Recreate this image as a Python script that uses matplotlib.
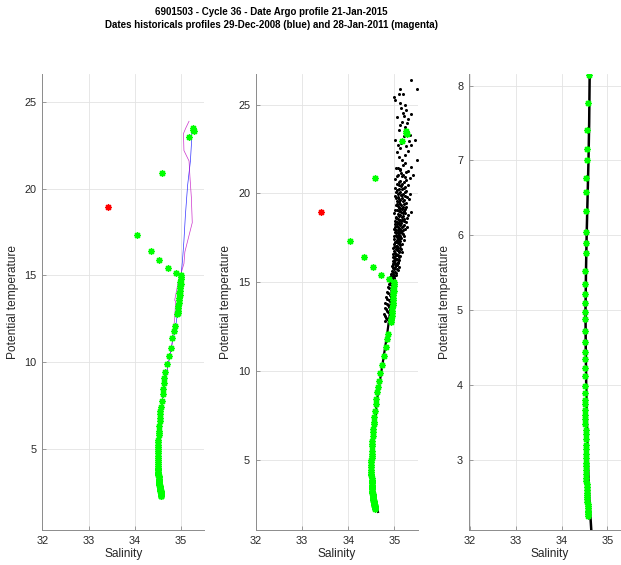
import matplotlib
matplotlib.use('Agg')
import matplotlib.pyplot as plt

plt.rcParams['font.family'] = ['Liberation Sans', 'DejaVu Sans']

#Argo profile (cycle 36): salinity / potential temperature
argo_s = [35.26, 35.25, 35.27, 35.16, 34.59, 34.05, 34.35, 34.53, 34.72, 34.89,
          35.00, 34.99, 35.00, 34.98, 34.99, 34.98, 34.97, 34.98, 34.96, 34.97,
          34.96, 34.95, 34.95, 34.94, 34.94, 34.93, 34.93, 34.92,
          34.87, 34.84, 34.81, 34.77, 34.74, 34.69, 34.66, 34.64, 34.62, 34.61,
          34.60, 34.58, 34.56, 34.55, 34.55, 34.54, 34.54, 34.53, 34.52, 34.52,
          34.52, 34.51, 34.51, 34.51, 34.51,
          34.50, 34.50, 34.50, 34.50, 34.50, 34.50, 34.50, 34.50, 34.51, 34.51,
          34.51, 34.51, 34.51, 34.51, 34.51, 34.51, 34.52, 34.52, 34.52, 34.52,
          34.52, 34.53, 34.53, 34.53, 34.53, 34.54, 34.54, 34.54, 34.54, 34.55,
          34.55, 34.55, 34.55, 34.56, 34.56, 34.56, 34.56, 34.57, 34.57, 34.57,
          34.57, 34.57, 34.57, 34.57]
argo_t = [23.50, 23.40, 23.35, 22.96, 20.88, 17.32, 16.42, 15.86, 15.41, 15.15,
          15.00, 14.88, 14.76, 14.62, 14.50, 14.38, 14.25, 14.12, 13.98, 13.85,
          13.70, 13.55, 13.40, 13.25, 13.10, 12.95, 12.85, 12.74,
          12.07, 11.78, 11.36, 10.82, 10.34, 9.87, 9.44, 9.10, 8.81, 8.43,
          8.14, 7.76, 7.40, 7.15, 7.01, 6.76, 6.58, 6.32, 6.04, 5.90,
          5.76, 5.52, 5.35, 5.22, 5.09,
          4.97, 4.88, 4.72, 4.57, 4.44, 4.34, 4.23, 4.12, 3.98, 3.89,
          3.80, 3.74, 3.67, 3.60, 3.54, 3.47, 3.40, 3.34, 3.27, 3.20,
          3.14, 3.08, 3.02, 2.96, 2.91, 2.86, 2.81, 2.76, 2.72, 2.68,
          2.64, 2.60, 2.56, 2.53, 2.50, 2.47, 2.44, 2.41, 2.38, 2.35,
          2.32, 2.30, 2.27, 2.25]

#flagged point
bad_s = [33.41]
bad_t = [18.97]

#historical profile 29-Dec-2008
hist1_s = [35.23, 35.22, 35.20, 35.14, 35.12, 35.09, 35.06, 35.03, 35.00, 34.97,
           34.93, 34.88, 34.80, 34.73, 34.66, 34.60, 34.55, 34.52, 34.50, 34.51,
           34.54, 34.60]
hist1_t = [23.37, 22.50, 21.60, 20.20, 19.50, 18.40, 17.00, 15.90, 15.00, 14.00,
           13.00, 12.00, 11.00, 10.00, 9.00, 8.00, 7.00, 6.00, 5.00, 4.00,
           3.00, 2.20]

#historical profile 28-Jan-2011
hist2_s = [35.17, 35.10, 35.05, 35.06, 35.17, 35.19, 35.22, 35.24, 35.08, 35.06,
           34.93, 34.86, 34.88, 34.86, 34.80, 34.73, 34.66, 34.60, 34.55, 34.52,
           34.50, 34.51, 34.55, 34.60]
hist2_t = [23.89, 23.50, 23.18, 22.20, 21.60, 20.67, 19.50, 18.04, 16.35, 15.67,
           14.52, 13.56, 13.50, 12.50, 11.00, 10.00, 9.00, 8.00, 7.00, 6.00,
           5.00, 4.00, 3.00, 2.30]

#reference data, deep part
deep_s = [34.645, 34.60, 34.57, 34.55, 34.535, 34.525, 34.52, 34.53, 34.545, 34.565,
          34.585, 34.60, 34.61, 34.63, 34.66, 34.72, 34.78, 34.84, 34.89, 34.93, 34.95]
deep_t = [2.07, 2.5, 3.0, 3.5, 4.0, 4.5, 5.0, 5.5, 6.0, 6.5,
          7.0, 7.5, 8.1, 8.5, 9.0, 10.0, 11.0, 12.0, 13.0, 14.0, 15.0]

#reference data, upper part (salinity, temperature)
cloud_pts = [
    (35.36, 26.37), (35.48, 25.90), (35.12, 25.88), (35.18, 25.58), (35.10, 25.60),
    (34.99, 25.43), (35.02, 25.28), (35.12, 25.06), (35.23, 24.96), (35.26, 24.68),
    (35.18, 24.53), (35.05, 24.31), (35.30, 24.21), (35.16, 24.03), (35.35, 24.49),
    (35.23, 23.75), (35.09, 23.56), (35.34, 23.28), (35.02, 23.00), (35.26, 22.64),
    (35.37, 22.73), (35.44, 23.00), (35.12, 22.54), (35.05, 22.35), (35.23, 22.16),
    (35.48, 21.88), (35.18, 21.60), (35.37, 21.51), (35.12, 21.32), (35.19, 21.04),
    (35.06, 20.95), (35.26, 20.76), (35.40, 21.04), (35.11, 20.48), (35.21, 20.29),
    (35.14, 24.80), (35.20, 24.35), (35.28, 23.95), (35.13, 23.85), (35.21, 23.20),
    (35.32, 22.95), (35.15, 22.85), (35.08, 22.70), (35.29, 22.40), (35.10, 22.05),
    (35.16, 21.85), (35.24, 21.70), (35.08, 21.45), (35.30, 21.25), (35.14, 21.15),
    (35.22, 20.90), (35.09, 20.65), (35.17, 20.55), (35.30, 20.45),
    (35.04, 21.40), (35.13, 21.35), (35.25, 21.20), (35.07, 21.05), (35.16, 20.98),
    (35.33, 20.88), (35.02, 20.80), (35.12, 20.72), (35.20, 20.62), (35.06, 20.52),
    (35.14, 20.40), (35.24, 20.35),
    (35.05, 20.20), (35.13, 20.10), (35.22, 20.05), (35.08, 19.95), (35.17, 19.88),
    (35.28, 19.80), (35.03, 19.72), (35.12, 19.65), (35.20, 19.60), (35.10, 19.50),
    (35.25, 19.45), (35.06, 19.38), (35.15, 19.32), (35.19, 19.22), (35.09, 19.15),
    (35.24, 19.10), (35.02, 19.05), (35.13, 18.98), (35.18, 18.90), (35.07, 18.85),
    (35.30, 18.80), (35.11, 18.72), (35.16, 18.66), (35.04, 18.60), (35.21, 18.55),
    (35.09, 18.48), (35.14, 18.42), (35.26, 18.38), (35.06, 18.30), (35.12, 18.25),
    (35.18, 18.18), (35.02, 18.12), (35.10, 18.05), (35.22, 18.00), (35.07, 17.95),
    (35.15, 17.88), (35.33, 19.95), (35.35, 18.95), (35.27, 18.10),
    (35.01, 20.30), (35.09, 20.25), (35.17, 20.22), (35.26, 20.15), (35.04, 20.08),
    (35.11, 20.02), (35.19, 19.98), (35.14, 19.92), (35.02, 19.85), (35.23, 19.84),
    (35.07, 19.78), (35.16, 19.75), (35.31, 19.70), (35.10, 19.68), (35.05, 19.58),
    (35.18, 19.55), (35.13, 19.42), (35.21, 19.40), (35.03, 19.33), (35.08, 19.28),
    (35.26, 19.25), (35.12, 19.20), (35.17, 19.12), (35.05, 19.08), (35.21, 19.02),
    (35.10, 19.00), (35.15, 18.94), (35.00, 18.92), (35.24, 18.88), (35.09, 18.80),
    (35.13, 18.76), (35.19, 18.70), (35.04, 18.68), (35.27, 18.62), (35.08, 18.58),
    (35.16, 18.52), (35.12, 18.50), (35.01, 18.45), (35.20, 18.44), (35.06, 18.40),
    (35.15, 18.35), (35.09, 18.33), (35.02, 18.28), (35.21, 18.22), (35.13, 18.20),
    (35.05, 18.15), (35.16, 18.10), (35.08, 18.08), (35.00, 18.02), (35.12, 17.98),
    (35.19, 17.96), (35.04, 17.92), (35.10, 17.90), (35.14, 17.85), (35.01, 17.80),
    (35.07, 17.78), (35.16, 17.74), (35.09, 17.68), (35.03, 17.65), (35.12, 17.60),
    (35.20, 17.58), (35.05, 17.52), (35.11, 17.45), (35.00, 17.44), (35.08, 17.38),
    (35.04, 17.82), (35.11, 17.75), (35.18, 17.70), (35.00, 17.62), (35.08, 17.55),
    (35.14, 17.48), (35.05, 17.40), (35.20, 17.35), (35.02, 17.28), (35.10, 17.20),
    (35.16, 17.12), (35.06, 17.05), (34.99, 16.98), (35.12, 16.92), (35.03, 16.85),
    (35.09, 16.78), (35.17, 16.70), (35.01, 16.62), (35.06, 16.55), (35.13, 16.48),
    (34.98, 16.40), (35.04, 16.33), (35.10, 16.26), (35.00, 16.18), (35.07, 16.10),
    (34.96, 16.02), (35.03, 15.95), (35.09, 15.88), (34.98, 15.80), (35.05, 15.72),
    (34.94, 15.64), (35.01, 15.56), (34.97, 15.48), (35.04, 15.40), (34.92, 15.32),
    (35.00, 15.24), (34.95, 15.16), (34.90, 15.08), (35.02, 15.00), (34.88, 14.92),
    (35.13, 17.32), (35.04, 17.25), (35.07, 17.18), (35.00, 17.15), (35.12, 17.08),
    (35.03, 17.02), (35.08, 16.95), (34.98, 16.90), (35.14, 16.88), (35.05, 16.80),
    (35.00, 16.74), (35.10, 16.68), (35.04, 16.60), (34.97, 16.58), (35.08, 16.52),
    (35.02, 16.45), (35.11, 16.42), (34.99, 16.36), (35.06, 16.30), (35.02, 16.22),
    (34.96, 16.20), (35.08, 16.15), (35.01, 16.08), (34.97, 16.05), (35.05, 15.98),
    (34.95, 15.92), (35.02, 15.85), (34.99, 15.76), (35.07, 15.68), (34.96, 15.60),
    (35.03, 15.52), (34.93, 15.44), (35.00, 15.36), (34.97, 15.28), (34.92, 15.20),
    (34.97, 14.84), (34.86, 14.70), (34.93, 14.60), (34.84, 14.45), (34.90, 14.30),
    (34.82, 14.15), (34.88, 14.00), (34.80, 13.85), (34.86, 13.70), (34.79, 13.55),
    (34.84, 13.40), (34.78, 13.20), (34.82, 13.00), (34.80, 12.80),
    (34.99, 14.95), (34.91, 14.88), (34.95, 14.75), (34.88, 14.65), (34.96, 14.52),
    (34.86, 14.40), (34.92, 14.22), (34.84, 14.08), (34.90, 13.92), (34.83, 13.78),
    (34.88, 13.62), (34.81, 13.48), (34.86, 13.30), (34.79, 13.10), (34.84, 12.90),
]
cloud_s = [p[0] for p in cloud_pts]
cloud_t = [p[1] for p in cloud_pts]

star = (8, 2, 0)
green = (0, 1, 0)
grid_col = '#e3e3e3'
text_col = '#262626'

def style_axis(ax, xlim, ylim, yticks):
    ax.set_xlim(xlim)
    ax.set_ylim(ylim)
    ax.set_xticks([32, 33, 34, 35])
    ax.set_yticks(yticks)
    ax.grid(True, color=grid_col, linewidth=0.6)
    ax.set_axisbelow(True)
    for side in ['top', 'right']:
        ax.spines[side].set_visible(False)
    for side in ['left', 'bottom']:
        ax.spines[side].set_color('#8c8c8c')
        ax.spines[side].set_linewidth(0.7)
    ax.tick_params(direction='in', length=3, width=0.6, color='#8c8c8c',
                   labelsize=7.8, labelcolor=text_col, pad=4)
    ax.set_xlabel('Salinity', fontsize=8.6, color=text_col, labelpad=2)
    ax.set_ylabel('Potential temperature', fontsize=8.6, color=text_col, labelpad=4)

fig = plt.figure(figsize=(6.21, 5.65), dpi=100)

#panel 1: Argo profile against the two historical profiles
ax1 = fig.add_axes([42.3/621, 35/565, 162/621, 455.7/565])
ax1.plot(hist1_s, hist1_t, color='b', linewidth=0.5, alpha=0.8)
ax1.plot(hist2_s, hist2_t, color='m', linewidth=0.5, alpha=0.8)
ax1.plot(argo_s, argo_t, linestyle='none', marker=star, color=green, markersize=4.8, mew=1.0)
ax1.plot(bad_s, bad_t, linestyle='none', marker=star, color='r', markersize=4.8, mew=1.0)
style_axis(ax1, (32, 35.5), (0.3, 26.6), [5, 10, 15, 20, 25])

#panel 2: Argo profile against the reference data
ax2 = fig.add_axes([255.7/621, 35/565, 161.8/621, 455.7/565])
ax2.plot(deep_s, deep_t, color='k', linewidth=1.6)
ax2.plot(cloud_s, cloud_t, linestyle='none', marker='o', color='k', markersize=2.2, mew=0)
ax2.plot(argo_s, argo_t, linestyle='none', marker=star, color=green, markersize=4.8, mew=1.0)
ax2.plot(bad_s, bad_t, linestyle='none', marker=star, color='r', markersize=4.8, mew=1.0)
style_axis(ax2, (32.04, 35.5), (1.05, 26.7), [5, 10, 15, 20, 25])

#panel 3: deep part only
ax3 = fig.add_axes([468.7/621, 35/565, 161.7/621, 455.7/565])
ax3.plot(deep_s, deep_t, color='k', linewidth=1.8)
ax3.plot(argo_s, argo_t, linestyle='none', marker=star, color=green, markersize=4.8, mew=1.0)
style_axis(ax3, (31.97, 35.5), (2.06, 8.15), [3, 4, 5, 6, 7, 8])

fig.text(271.6/621, 1 - 12/565, '6901503 - Cycle 36 - Date Argo profile 21-Jan-2015',
         ha='center', va='center', fontsize=7.0, fontweight='bold', color='k')
fig.text(271.6/621, 1 - 25.5/565,
         'Dates historicals profiles 29-Dec-2008 (blue) and 28-Jan-2011 (magenta)',
         ha='center', va='center', fontsize=7.0, fontweight='bold', color='k')

fig.savefig('out.png', dpi=100)
